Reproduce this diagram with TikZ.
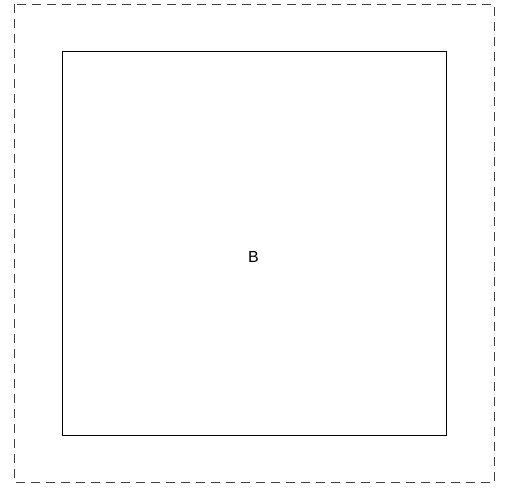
\documentclass[tikz,border=0pt]{standalone}
\usepackage{fontspec}
\setmainfont{Liberation Sans}
\begin{document}
\begin{tikzpicture}[x=1pt,y=-1pt,
  outer/.style={draw=black!75, dash pattern=on 9pt off 6pt, line width=0.9pt},
  inner/.style={draw=black, line width=0.9pt}]
\useasboundingbox (0,0) rectangle (505,487);
\draw[outer] (14.5,4.3) rectangle (494.3,482.7);
\draw[inner] (62.3,51.7) rectangle (446,435);
\node[font=\fontsize{16}{18}\selectfont] (b) at (253.5,256.5) {B};
\end{tikzpicture}
\end{document}
